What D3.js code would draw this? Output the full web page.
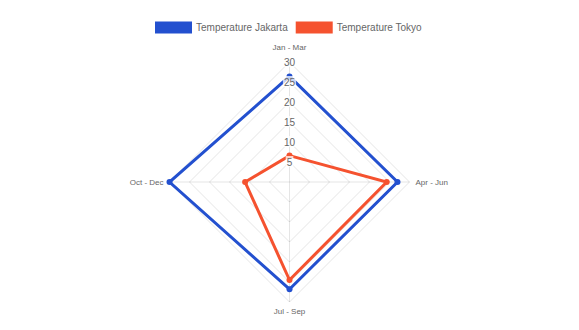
<!DOCTYPE html>
<html>
<head>
<meta charset="utf-8">
<script src="https://cdn.jsdelivr.net/npm/d3@7"></script>
<style>
  body { margin: 0; background: #fff; }
  text { font-family: "Liberation Sans", Arial, Helvetica, sans-serif; }
</style>
</head>
<body>
<div id="chart"></div>
<script>
var labels = ["Jan - Mar", "Apr - Jun", "Jul - Sep", "Oct - Dec"];
var jakarta = [26.4, 27, 26.8, 30];
var tokyo = [6.6, 24.3, 24.5, 11.1];
var ticks = [5, 10, 15, 20, 25, 30];
var seriesNames = ["Temperature Jakarta", "Temperature Tokyo"];
var seriesColors = ["#2350cf", "#f5522f"];

var width = 579, height = 330;
var cx = 289.5, cy = 182, radius = 120;

var svg = d3
  .select("#chart")
  .append("svg")
  .attr("width", width)
  .attr("height", height);

var r = d3.scaleLinear().domain([0, 30]).range([0, radius]);
var angle = d3
  .scaleLinear()
  .domain([0, labels.length])
  .range([-Math.PI / 2, (3 * Math.PI) / 2]);

var g = svg.append("g").attr("transform", "translate(" + cx + "," + cy + ")");

function pt(i, v) {
  return [Math.cos(angle(i)) * r(v), Math.sin(angle(i)) * r(v)];
}

// grid rings
ticks.forEach(function (t) {
  g.append("polygon")
    .attr("points", labels.map((d, i) => pt(i, t).join(",")).join(" "))
    .attr("fill", "none")
    .attr("stroke", "rgba(0,0,0,0.1)")
    .attr("stroke-width", 1);
});

// angle lines
labels.forEach(function (d, i) {
  var p = pt(i, 30);
  g.append("line")
    .attr("x1", 0)
    .attr("y1", 0)
    .attr("x2", p[0])
    .attr("y2", p[1])
    .attr("stroke", "rgba(0,0,0,0.1)")
    .attr("stroke-width", 1);
});

// point labels
var anchors = ["middle", "start", "middle", "end"];
labels.forEach(function (d, i) {
  var p = pt(i, 30);
  var dx = 0, dy = 0;
  if (i == 0) dy = -12;
  if (i == 1) { dx = 6; dy = 3; }
  if (i == 2) dy = 12;
  if (i == 3) { dx = -6; dy = 3; }
  g.append("text")
    .attr("x", p[0] + dx)
    .attr("y", p[1] + dy)
    .attr("text-anchor", anchors[i])
    .style("font-size", "8px")
    .style("fill", "#666")
    .text(d);
});

// data lines
var line = d3
  .lineRadial()
  .angle((d, i) => angle(i) + Math.PI / 2)
  .radius((d) => r(d))
  .curve(d3.curveLinearClosed);

[jakarta, tokyo].forEach(function (data, k) {
  g.append("path")
    .datum(data)
    .attr("d", line)
    .attr("fill", "none")
    .attr("stroke", seriesColors[k])
    .attr("stroke-width", 3)
    .attr("stroke-linejoin", "miter");
  g.selectAll(".pt" + k)
    .data(data)
    .enter()
    .append("circle")
    .attr("cx", (d, i) => pt(i, d)[0])
    .attr("cy", (d, i) => pt(i, d)[1])
    .attr("r", 3)
    .attr("fill", seriesColors[k]);
});

// tick labels with backdrop
ticks.forEach(function (t) {
  var y = -r(t);
  var s = String(t);
  var w = s.length * 5.6 + 2;
  g.append("rect")
    .attr("x", -w / 2)
    .attr("y", y - 6)
    .attr("width", w)
    .attr("height", 11)
    .attr("fill", "rgba(255,255,255,0.75)");
  g.append("text")
    .attr("x", 0)
    .attr("y", y)
    .attr("dy", "0.35em")
    .attr("text-anchor", "middle")
    .style("font-size", "10px")
    .style("fill", "#666")
    .text(s);
});

// legend
var legend = svg.append("g");
var lx = 155;
seriesNames.forEach(function (name, k) {
  legend.append("rect")
    .attr("x", lx)
    .attr("y", 21.5)
    .attr("width", 37)
    .attr("height", 12)
    .attr("fill", seriesColors[k]);
  var txt = legend.append("text")
    .attr("x", lx + 41)
    .attr("y", 27.5)
    .attr("dy", "0.35em")
    .style("font-size", "10px")
    .style("fill", "#666")
    .text(name);
  lx += 41 + txt.node().getComputedTextLength() + 8;
});
</script>
</body>
</html>
